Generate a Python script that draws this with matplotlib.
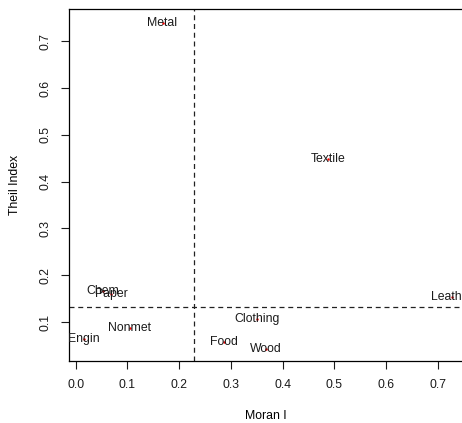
import matplotlib
matplotlib.use("Agg")
import matplotlib.pyplot as plt

plt.rcParams['font.family'] = ['Liberation Sans', 'DejaVu Sans']

# sectors: Moran I vs Theil index
sectors = ['Metal', 'Textile', 'Chem', 'Paper', 'Engin', 'Nonmet',
           'Food', 'Clothing', 'Wood', 'Leather']
moran = [0.168, 0.488, 0.053, 0.0685, 0.0157, 0.105,
         0.287, 0.350, 0.368, 0.728]
theil = [0.7395, 0.4476, 0.1669, 0.1605, 0.0643, 0.0865,
         0.057, 0.1064, 0.0417, 0.1534]

moran_cut = 0.2284
theil_cut = 0.1327

fig = plt.figure(figsize=(4.62, 4.23), dpi=100)
ax = fig.add_axes([0.150, 0.1466, 0.850, 0.8321])

ax.plot(moran, theil, linestyle='none', marker='.', markersize=1.5, color='red')
for name, xv, yv in zip(sectors, moran, theil):
    ax.text(xv, yv, name, ha='center', va='center', fontsize=8.8, color='#1a1a1a')

ax.axvline(moran_cut, color='#222222', lw=0.9, ls=(0, (4, 3)))
ax.axhline(theil_cut, color='#222222', lw=0.9, ls=(0, (4, 3)))

ax.set_xlim(-0.0122, 0.747)
ax.set_ylim(0.0167, 0.769)
ax.set_xticks([0.0, 0.1, 0.2, 0.3, 0.4, 0.5, 0.6, 0.7])
ax.set_yticks([0.1, 0.2, 0.3, 0.4, 0.5, 0.6, 0.7])
ax.set_yticklabels(['0.1', '0.2', '0.3', '0.4', '0.5', '0.6', '0.7'],
                   rotation=90, va='center')
ax.tick_params(axis='both', labelsize=8.8, length=5.5, width=0.8,
               colors='#1a1a1a', pad=7.5)
ax.spines['right'].set_visible(False)
for s in ['left', 'top', 'bottom']:
    ax.spines[s].set_linewidth(0.9)

ax.set_xlabel('Moran I', fontsize=8.8, labelpad=14)
ax.set_ylabel('Theil Index', fontsize=8.8, labelpad=13)

fig.savefig('out.png', dpi=100)
